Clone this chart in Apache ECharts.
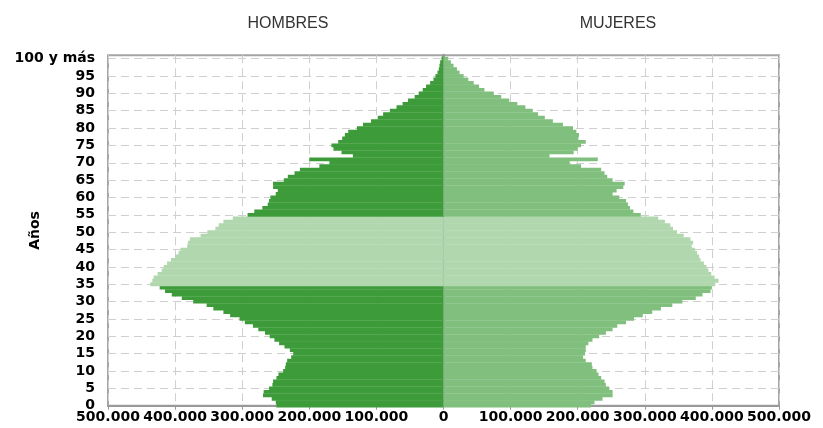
<!DOCTYPE html>
<html>
<head>
<meta charset="utf-8">
<title>Pirámide de población</title>
<script src="https://cdn.jsdelivr.net/npm/echarts@6/dist/echarts.min.js"></script>
<style>
  html, body { margin: 0; padding: 0; background: #fff; }
  #chart { width: 823px; height: 428px; }
</style>
</head>
<body>
<div id="chart"></div>
<script>
// población por edad simple, en miles (0 .. 100 y más)
var hombres = [
  249, 250, 256, 269, 268, 260, 255, 254, 249, 246,
  239, 236, 235, 233, 227, 224, 229, 237, 245, 252,
  259, 266, 276, 284, 296, 304, 318, 328, 343, 353,
  373, 390, 405, 415, 423, 437, 434, 432, 426, 420,
  417, 412, 406, 400, 395, 392, 382, 381, 378, 362,
  352, 340, 335, 328, 314, 292, 282, 270, 262, 260,
  258, 250, 247, 254, 254, 238, 232, 222, 214, 185,
  170, 200, 135, 152, 164, 167, 157, 151, 147, 142,
  129, 120, 108, 98, 90, 80, 70, 61, 53, 43,
  37, 31, 26, 20, 15, 12, 9, 7, 6, 5,
  3
];
var mujeres = [
  220, 225, 237, 252, 252, 247, 242, 240, 235, 231,
  228, 222, 221, 212, 208, 211, 212, 212, 216, 222,
  232, 242, 252, 259, 272, 284, 297, 311, 324, 341,
  356, 376, 386, 398, 400, 405, 410, 404, 399, 395,
  392, 388, 383, 381, 378, 375, 370, 372, 368, 358,
  348, 342, 338, 330, 320, 294, 283, 278, 275, 272,
  262, 252, 258, 268, 270, 252, 244, 240, 235, 205,
  188, 230, 158, 194, 200, 205, 212, 201, 202, 198,
  193, 178, 163, 151, 141, 133, 122, 110, 98, 86,
  75, 61, 53, 45, 37, 30, 24, 20, 15, 11,
  7
];
// grupo resaltado (edades)
var resaltadoDesde = 35;
var resaltadoHasta = 54;

var edades = [];
for (var i = 0; i < hombres.length; i++) {
  edades.push(i === 100 ? '100 y más' : String(i));
}
edades.push(''); // hueco superior del marco

var cHombres = '#3d9b3a';
var cMujeres = '#80bf7d';
var cResaltado = '#b1d7ae';

function enGrupo(i) { return i >= resaltadoDesde && i <= resaltadoHasta; }

var datosH = hombres.map(function (v, i) {
  return { value: -v, itemStyle: { color: enGrupo(i) ? cResaltado : cHombres } };
});
var datosM = mujeres.map(function (v, i) {
  return { value: v, itemStyle: { color: enGrupo(i) ? cResaltado : cMujeres } };
});

var cada5 = function (index) { return index % 5 === 0 && index <= 100; };

var myChart = echarts.init(document.getElementById('chart'));
myChart.setOption({
  animation: false,
  title: [
    { text: 'HOMBRES', left: 283, top: 11, textAlign: 'center',
      textStyle: { fontFamily: 'Liberation Sans', fontSize: 16, fontWeight: 'normal', color: '#333' } },
    { text: 'MUJERES', left: 613, top: 11, textAlign: 'center',
      textStyle: { fontFamily: 'Liberation Sans', fontSize: 16, fontWeight: 'normal', color: '#333' } }
  ],
  grid: {
    left: 108, right: 44, top: 55.2, bottom: 22.3,
    outerBoundsMode: 'none', containLabel: false,
    show: true, borderColor: '#a5a5a5', borderWidth: 2, backgroundColor: '#fff'
  },
  xAxis: {
    type: 'value',
    min: -500, max: 500, interval: 100,
    axisLine: { show: true, lineStyle: { color: '#999', width: 2 } },
    axisTick: { show: true, length: 4, lineStyle: { color: '#999' } },
    axisLabel: {
      margin: 5, hideOverlap: false,
      fontFamily: 'DejaVu Sans', fontWeight: 'bold', fontSize: 14, color: '#000',
      formatter: function (v) { return v === 0 ? '0' : Math.abs(v) + '.000'; }
    },
    splitLine: { show: true, lineStyle: { color: '#cfcfcf', type: [8, 5] } }
  },
  yAxis: {
    type: 'category',
    data: edades,
    boundaryGap: false,
    name: 'Años',
    nameLocation: 'middle',
    nameRotate: 90,
    nameGap: 66,
    nameMoveOverlap: false,
    nameTextStyle: { fontFamily: 'DejaVu Sans', fontWeight: 'bold', fontSize: 14, color: '#000' },
    axisLine: { show: true, lineStyle: { color: '#999', width: 3 } },
    axisTick: { show: false, interval: cada5 },
    axisLabel: {
      interval: cada5, margin: 13,
      fontFamily: 'DejaVu Sans', fontWeight: 'bold', fontSize: 14, color: '#000'
    },
    splitLine: { show: true, interval: cada5, lineStyle: { color: '#cfcfcf', type: [8, 5] } }
  },
  series: [
    {
      name: 'Hombres', type: 'bar', stack: 'p', clip: true,
      barWidth: 3.8, data: datosH
    },
    {
      name: 'Mujeres', type: 'bar', stack: 'p', clip: true,
      barWidth: 3.8, data: datosM
    }
  ]
});
</script>
</body>
</html>
